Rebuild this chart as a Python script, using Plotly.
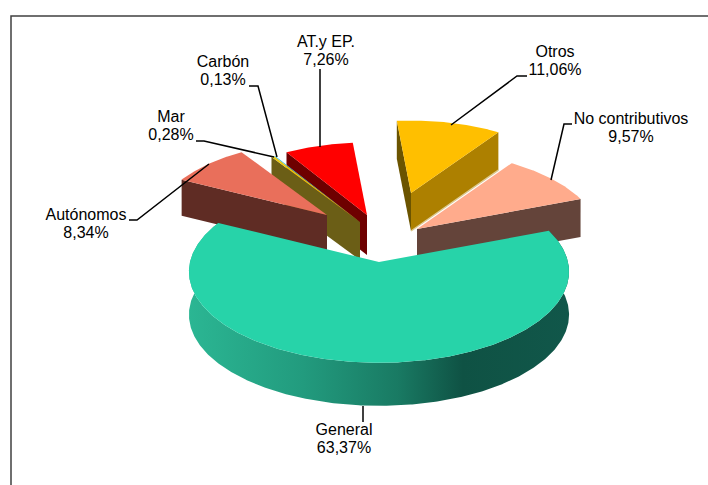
import math
import plotly.graph_objects as go

# ---- data (clockwise from the first slice) ----
categories = ["AT.y EP.", "Otros", "No contributivos", "General", "Autónomos", "Mar", "Carbón"]
shares = [7.26, 11.06, 9.57, 63.37, 8.34, 0.28, 0.13]

# ---- styling and projection ----
top_colors = ["#FF0000", "#FFBF00", "#FFAB8C", "#27D3A9", "#E96F5B", "#E8C810", "#33BBEE"]
START = -31.5
TILT = 0.477
PERSP = 0.106
apex = {"AT.y EP.": (367, 215), "Otros": (411, 193), "No contributivos": (417, 229),
        "General": (379, 262), "Autónomos": (327, 215), "Mar": (360, 222), "Carbón": (360, 222)}
radius = {"AT.y EP.": 168, "Otros": 168, "No contributivos": 182, "General": 189,
          "Autónomos": 171, "Mar": 177, "Carbón": 177}
depth = {"AT.y EP.": 40, "Otros": 38, "No contributivos": 38, "General": 43,
         "Autónomos": 36, "Mar": 38, "Carbón": 38}
# walls: which face of each slice shows, and its colour
walls = {"AT.y EP.": [("start", "#6E0000")],
         "Otros": [("start", "#6B5400"), ("end", "#AD8000")],
         "No contributivos": [("end", "#64443A")],
         "Autónomos": [("start", "#5F2C24")],
         "Mar": [("start", "#6B5E16")]}
draw_order = ["AT.y EP.", "Otros", "No contributivos", "Carbón", "Mar", "Autónomos", "General"]

label_xy = {"AT.y EP.": (326, 43), "Otros": (555, 53), "No contributivos": (631, 120),
            "General": (344, 431), "Autónomos": (86, 216), "Mar": (171, 118), "Carbón": (223, 63)}
LINE_GAP = 17.5
leaders = [
    [(320, 69), (320, 147)],
    [(249, 86), (258, 86), (277, 157)],
    [(196, 141), (204, 141), (274, 157)],
    [(129, 220), (137, 220), (209, 164)],
    [(527, 76), (517, 76), (451, 125)],
    [(572, 124), (564, 124), (551, 180)],
    [(363, 406), (363, 422)],
]

# ---- angles from the shares ----
total = sum(shares)
span = {}
acc = START
for name, v in zip(categories, shares):
    span[name] = (acc, acc + v / total * 360)
    acc = span[name][1]


def project(name, angle, r=1.0):
    ax, ay = apex[name]
    R = radius[name]
    u, v = r * math.sin(math.radians(angle)), -r * math.cos(math.radians(angle))
    w = 1 - PERSP * v
    return ax + R * u / w, ay + R * TILT * v / w


def arc(name):
    a0, a1 = span[name]
    n = max(3, int(a1 - a0) * 2)
    return [project(name, a0 + (a1 - a0) * i / n) for i in range(n + 1)]


fig = go.Figure()


def poly(points, color=None, gradient=None):
    kw = dict(fillgradient=gradient) if gradient else dict(fillcolor=color)
    fig.add_trace(go.Scatter(
        x=[p[0] for p in points] + [points[0][0]],
        y=[p[1] for p in points] + [points[0][1]],
        mode="lines", line=dict(width=0), fill="toself",
        hoverinfo="skip", showlegend=False, **kw))


for name in draw_order:
    a0, a1 = span[name]
    d = depth[name]
    A = apex[name]
    for face, col in walls.get(name, []):
        P = project(name, a0 if face == "start" else a1)
        poly([A, P, (P[0], P[1] + d), (A[0], A[1] + d)], color=col)
        if name == "Otros" and face == "end":
            # pale lower rim of this wall
            fig.add_trace(go.Scatter(x=[A[0], P[0]], y=[A[1] + d, P[1] + d], mode="lines",
                                     line=dict(color="#DCC88E", width=1.5),
                                     hoverinfo="skip", showlegend=False))
    pts = arc(name)
    if name == "General":
        wall = pts + [(x, y + d) for x, y in reversed(pts)]
        poly(wall, gradient=dict(type="horizontal", colorscale=[
            [0.0, "#2BB693"], [0.3, "#229B7E"], [0.55, "#197A63"],
            [0.72, "#0F5244"], [1.0, "#11574A"]]))
    poly([A] + pts, color=top_colors[categories.index(name)])

# ---- leader lines ----
for seg in leaders:
    fig.add_trace(go.Scatter(x=[p[0] for p in seg], y=[p[1] for p in seg], mode="lines",
                             line=dict(color="#000000", width=1.5),
                             hoverinfo="skip", showlegend=False))

# ---- labels ----
tx, ty, tt = [], [], []
for name, v in zip(categories, shares):
    x, y = label_xy[name]
    tx += [x, x]
    ty += [y, y + LINE_GAP]
    tt += [name, f"{v:.2f}".replace(".", ",") + "%"]
fig.add_trace(go.Scatter(x=tx, y=ty, text=tt, mode="text", textposition="middle center",
                         textfont=dict(family="Liberation Sans, Arial, sans-serif", size=16, color="#000000"),
                         hoverinfo="skip", showlegend=False))

fig.update_layout(
    width=708, height=485, margin=dict(l=0, r=0, t=0, b=0),
    paper_bgcolor="#FFFFFF", plot_bgcolor="#FFFFFF", showlegend=False,
    xaxis=dict(range=[0, 708], visible=False, fixedrange=True),
    yaxis=dict(range=[485, 0], visible=False, fixedrange=True),
    shapes=[dict(type="path", xref="x", yref="y", path="M 11 485 L 11 16 L 708 16",
                 line=dict(color="#404040", width=1.5))],
)
fig.write_html("out.html", config={"displayModeBar": False},
               post_script="document.body.style.margin='0';document.body.style.overflow='hidden';")
